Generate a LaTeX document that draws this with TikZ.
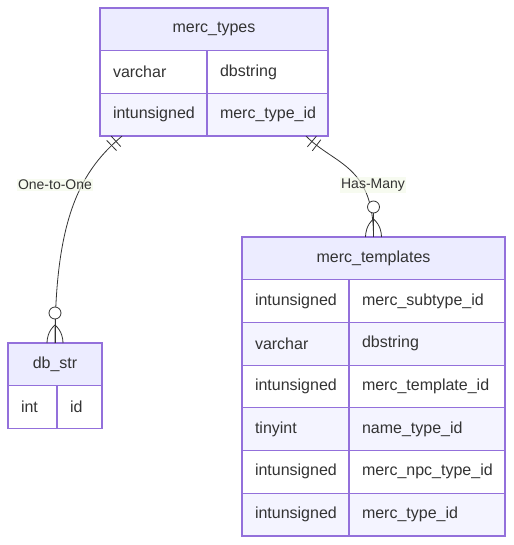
\documentclass[tikz,border=0pt]{standalone}
\usepackage{fontspec}
\setmainfont{Liberation Sans}
\usetikzlibrary{positioning,decorations.markings}
\definecolor{erline}{HTML}{9370DB}
\definecolor{erhead}{HTML}{ECECFF}
\definecolor{ereven}{HTML}{F4F4FF}
\definecolor{ertext}{HTML}{333333}
\definecolor{erlbl}{HTML}{F2F8E6}

\begin{document}
\begin{tikzpicture}[x=1pt, y=-1pt,
    every node/.style = {font=\fontsize{16}{19}\selectfont, text=ertext, outer sep=0pt},
    head/.style = {draw=erline, line width=1.2pt, fill=erhead,
      minimum height=42.7pt, inner sep=0pt, anchor=north west},
    cell/.style = {draw=erline, line width=1.2pt, minimum height=42.7pt,
      inner xsep=13pt, inner ysep=0pt, text width=#1, align=left},
    shade/.style = {fill=ereven},
    rel/.style = {draw=ertext, line width=0.8pt},
    lbl/.style = {font=\fontsize{14}{16}\selectfont, fill=erlbl, fill opacity=0.6,
      text opacity=1, inner sep=1.5pt},
    onlyone/.style = {postaction={decorate, decoration={markings,
      mark=at position 8pt with {\draw[rel] (0pt,-7pt) -- (0pt,7pt);},
      mark=at position 14pt with {\draw[rel] (0pt,-7pt) -- (0pt,7pt);}}}},
    zeromany/.style = {postaction={decorate, decoration={markings,
      mark=at position 1 with {
        \draw[rel, fill=white] (-30pt,0pt) circle (6pt);
        \draw[rel] (-24pt,0pt) -- (0pt,0pt);
        \draw[rel] (-18pt,0pt) .. controls (-12pt,7pt) and (-4pt,8pt) .. (0pt,8pt);
        \draw[rel] (-18pt,0pt) .. controls (-12pt,-7pt) and (-4pt,-8pt) .. (0pt,-8pt);}}}}]

  \useasboundingbox (0,0) rectangle (513,545);

  % merc_types
  \node[head, minimum width=228pt] (mtypes) at (100,8) {merc\_types};
  \node[cell=81pt, below right=0pt of mtypes.south west] (mtypes-1a) {varchar};
  \node[cell=95pt, right=0pt of mtypes-1a] (mtypes-1b) {dbstring};
  \node[cell=81pt, shade, below right=0pt of mtypes-1a.south west] (mtypes-2a) {intunsigned};
  \node[cell=95pt, shade, right=0pt of mtypes-2a] (mtypes-2b) {merc\_type\_id};

  % db_str
  \node[head, minimum width=94pt] (dbstr) at (8,343) {db\_str};
  \node[cell=23pt, below right=0pt of dbstr.south west] (dbstr-1a) {int};
  \node[cell=19pt, right=0pt of dbstr-1a] (dbstr-1b) {id};

  % merc_templates
  \node[head, minimum width=263pt] (mtpl) at (242,237) {merc\_templates};
  \node[cell=81pt, below right=0pt of mtpl.south west] (mtpl-1a) {intunsigned};
  \node[cell=130pt, right=0pt of mtpl-1a] (mtpl-1b) {merc\_subtype\_id};
  \node[cell=81pt, shade, below right=0pt of mtpl-1a.south west] (mtpl-2a) {varchar};
  \node[cell=130pt, shade, right=0pt of mtpl-2a] (mtpl-2b) {dbstring};
  \node[cell=81pt, below right=0pt of mtpl-2a.south west] (mtpl-3a) {intunsigned};
  \node[cell=130pt, right=0pt of mtpl-3a] (mtpl-3b) {merc\_template\_id};
  \node[cell=81pt, shade, below right=0pt of mtpl-3a.south west] (mtpl-4a) {tinyint};
  \node[cell=130pt, shade, right=0pt of mtpl-4a] (mtpl-4b) {name\_type\_id};
  \node[cell=81pt, below right=0pt of mtpl-4a.south west] (mtpl-5a) {intunsigned};
  \node[cell=130pt, right=0pt of mtpl-5a] (mtpl-5b) {merc\_npc\_type\_id};
  \node[cell=81pt, shade, below right=0pt of mtpl-5a.south west] (mtpl-6a) {intunsigned};
  \node[cell=130pt, shade, right=0pt of mtpl-6a] (mtpl-6b) {merc\_type\_id};

  % relations
  \draw[rel, onlyone, zeromany] ([xshift=22pt]mtypes-2a.south west)
    .. controls (82,170) and (55,215) .. (dbstr.north);
  \draw[rel, onlyone, zeromany] ([xshift=-22pt]mtypes-2b.south east)
    .. controls (335,165) and (373.5,165) .. (mtpl.north);

  \node[lbl] (one2one) at (55,185) {One-to-One};
  \node[lbl] (hasmany) at (373,185) {Has-Many};

\end{tikzpicture}
\end{document}
